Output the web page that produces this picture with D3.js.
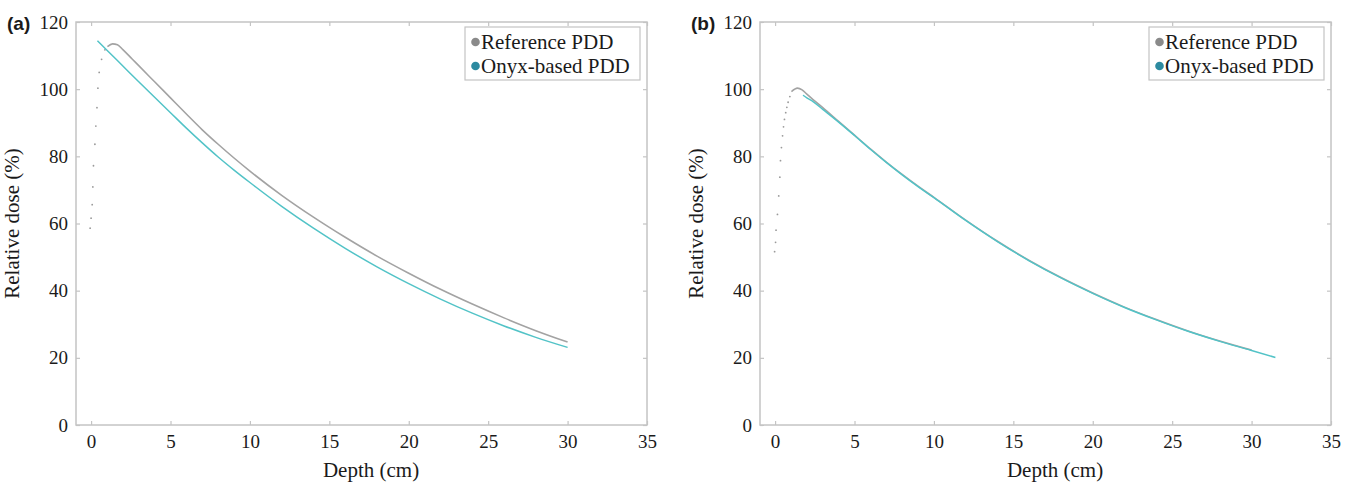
<!DOCTYPE html>
<html>
<head>
<meta charset="utf-8">
<script src="https://cdn.jsdelivr.net/npm/d3@7"></script>
<style>
  body { margin: 0; background: #fff; }
  svg { display: block; }
</style>
</head>
<body>
<svg id="chart" width="1354" height="485"></svg>
<script>
var SERIF = '"Liberation Serif", Tinos, "Times New Roman", serif';
var SANS = '"Liberation Sans", Arial, sans-serif';

// axis ticks
var depthTicks = [0, 5, 10, 15, 20, 25, 30, 35];
var doseTicks = [0, 20, 40, 60, 80, 100, 120];

// panel (a) — [depth cm, relative dose %]
var refDotsA = [[-0.06, 58.6], [0, 61.6], [0.07, 65.6], [0.11, 70.9], [0.15, 77.2], [0.24, 83.6],
  [0.3, 89], [0.37, 94.5], [0.43, 100.3], [0.51, 105], [0.66, 108.9], [0.87, 111.7]];
var refLineA = [[1.03, 112.7], [1.35, 113.5], [1.66, 113.2], [2, 111.8], [2.6, 108.9], [3, 107.0],
  [4, 102.2], [5, 97.4], [6, 92.6], [7, 87.9], [8, 83.6], [9, 79.5], [10, 75.6], [12, 68.4],
  [14, 61.9], [16, 55.9], [18, 50.3], [20, 45.2], [22, 40.4], [24, 36.0], [26, 31.9], [28, 28.1], [30, 24.7]];
var onyxA = [[0.4, 114.4], [1, 111.6], [2, 106.9], [3, 102.2], [4, 97.6], [5, 93.0], [6, 88.4],
  [7, 84.0], [8, 79.8], [9, 75.9], [10, 72.2], [12, 65.1], [14, 58.6], [16, 52.6], [18, 47.1],
  [20, 42.1], [22, 37.5], [24, 33.3], [26, 29.5], [28, 26.1], [30, 23.1]];

// panel (b)
var refDotsB = [[-0.03, 51.6], [0.03, 54.4], [0.06, 58], [0.15, 62.7], [0.23, 68.2], [0.3, 73.8],
  [0.34, 78.7], [0.4, 82.6], [0.47, 86.1], [0.53, 88.8], [0.59, 91], [0.67, 93], [0.74, 94.6],
  [0.82, 96.1], [0.93, 97.8]];
var refLineB = [[1.03, 99.3], [1.41, 100.3], [1.7, 99.8], [2, 98.5], [2.39, 96.9], [3, 94.5],
  [4, 90.4], [5, 86.3], [6, 82.2], [7, 78.3], [8, 74.6], [9, 71.1], [10, 67.8], [12, 61.0],
  [14, 54.7], [16, 49.0], [18, 43.9], [20, 39.3], [22, 35.1], [24, 31.4], [26, 28.0], [28, 25.0], [30, 22.3]];
var onyxB = [[1.76, 98.2], [2, 97.4], [2.39, 96.3], [3, 94.0], [4, 90.2], [5, 86.2], [6, 82.1],
  [7, 78.2], [8, 74.5], [9, 71.0], [10, 67.7], [12, 60.9], [14, 54.6], [16, 48.9], [18, 43.8],
  [20, 39.2], [22, 35.0], [24, 31.3], [26, 27.9], [28, 24.9], [30, 22.2], [31.5, 20.1]];

var legendLabels = ['Reference PDD', 'Onyx-based PDD'];

var C = {
  frame: '#c4c4c4',
  ref: '#a3a3a3',
  refDot: '#9a9a9a',
  onyx: '#52c3c7',
  refMark: '#8a8a8a',
  onyxMark: '#2c8aa0',
  text: '#1a1a1a'
};

var svg = d3.select('#chart');

function drawPanel(p) {
  var x = d3.scaleLinear().domain([-0.95, 35]).range([p.left, p.right]);
  var y = d3.scaleLinear().domain([0, 120]).range([p.bottom, p.top]);
  var g = svg.append('g');

  // inward ticks on all four sides, labels only bottom / left
  var axes = [
    [d3.axisBottom(x).tickValues(depthTicks), 'translate(0,' + p.bottom + ')', true, 10],
    [d3.axisTop(x).tickValues(depthTicks), 'translate(0,' + p.top + ')', false, 10],
    [d3.axisLeft(y).tickValues(doseTicks), 'translate(' + p.left + ',0)', true, 8],
    [d3.axisRight(y).tickValues(doseTicks), 'translate(' + p.right + ',0)', false, 8]
  ];
  axes.forEach(function(a) {
    var ax = g.append('g').attr('transform', a[1])
      .call(a[0].tickSizeInner(-4).tickSizeOuter(0).tickPadding(a[3]));
    ax.attr('font-family', SERIF);
    ax.select('.domain').remove();
    ax.selectAll('line').attr('stroke', C.frame).attr('stroke-width', 1.2);
    if (a[2]) {
      ax.selectAll('text')
        .style('font-family', SERIF)
        .style('font-size', '19px')
        .attr('fill', C.text);
    } else {
      ax.selectAll('text').remove();
    }
  });

  g.append('rect')
    .attr('x', p.left).attr('y', p.top)
    .attr('width', p.right - p.left).attr('height', p.bottom - p.top)
    .attr('fill', 'none').attr('stroke', C.frame).attr('stroke-width', 1.5);

  var line = d3.line()
    .x(function(d) { return x(d[0]); })
    .y(function(d) { return y(d[1]); })
    .curve(d3.curveMonotoneX);

  g.selectAll('.ref-dot').data(p.dots).enter().append('circle')
    .attr('cx', function(d) { return x(d[0]); })
    .attr('cy', function(d) { return y(d[1]); })
    .attr('r', 0.9).attr('fill', C.refDot);

  g.append('path').datum(p.ref).attr('d', line)
    .attr('fill', 'none').attr('stroke', C.ref).attr('stroke-width', 1.6);
  g.append('path').datum(p.onyx).attr('d', line)
    .attr('fill', 'none').attr('stroke', C.onyx).attr('stroke-width', 1.5);

  // axis titles
  g.append('text')
    .attr('x', (x(0) + x(35)) / 2 + 2).attr('y', 477)
    .attr('text-anchor', 'middle')
    .style('font-family', SERIF).style('font-size', '21px').attr('fill', C.text)
    .text('Depth (cm)');
  g.append('text')
    .attr('transform', 'translate(' + (p.left - 57) + ',' + ((p.top + p.bottom) / 2) + ') rotate(-90)')
    .attr('text-anchor', 'middle')
    .style('font-family', SERIF).style('font-size', '21px').attr('fill', C.text)
    .text('Relative dose (%)');

  g.append('text')
    .attr('x', p.left - 69).attr('y', 30)
    .style('font-family', SANS).style('font-weight', 'bold').style('font-size', '19px')
    .attr('fill', C.text)
    .text(p.tag);

  // legend
  var lg = g.append('g').attr('transform', 'translate(' + p.legX + ',' + (p.top + 5) + ')');
  lg.append('rect').attr('width', p.legW).attr('height', 53)
    .attr('fill', '#fff').attr('stroke', C.frame).attr('stroke-width', 1.2);
  legendLabels.forEach(function(t, i) {
    var cy = 15 + i * 24;
    lg.append('circle').attr('cx', 10.5).attr('cy', cy).attr('r', 4.3)
      .attr('fill', i === 0 ? C.refMark : C.onyxMark);
    lg.append('text').attr('x', 16).attr('y', cy + 7)
      .style('font-family', SERIF).style('font-size', '21px').attr('fill', C.text)
      .text(t);
  });
}

drawPanel({ tag: '(a)', left: 76, right: 647, top: 22, bottom: 425,
  dots: refDotsA, ref: refLineA, onyx: onyxA, legX: 465, legW: 175 });
drawPanel({ tag: '(b)', left: 760, right: 1331, top: 22, bottom: 425,
  dots: refDotsB, ref: refLineB, onyx: onyxB, legX: 1149, legW: 175 });
</script>
</body>
</html>
